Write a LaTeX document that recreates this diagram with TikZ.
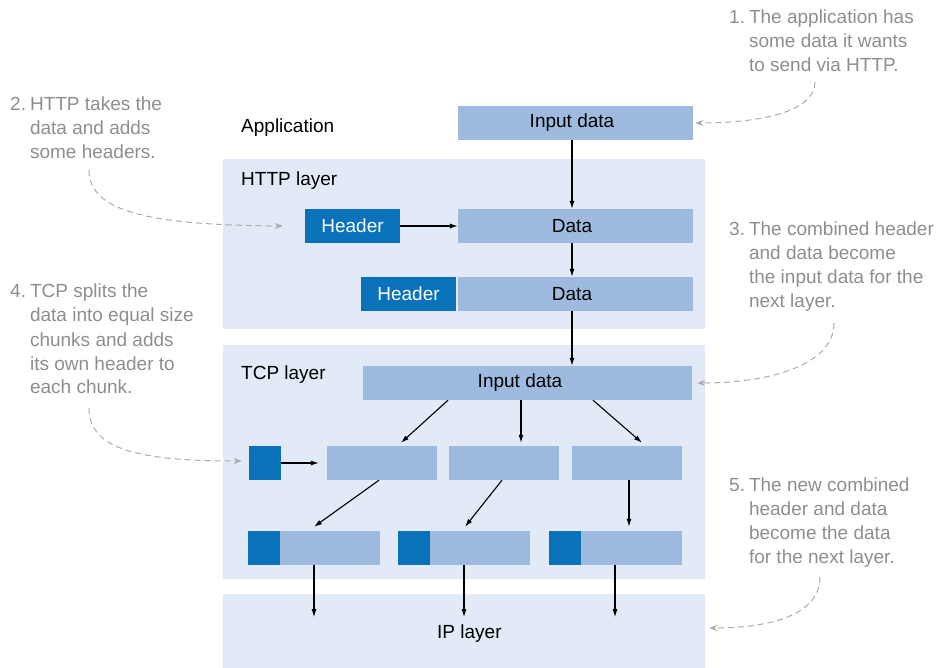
\documentclass[tikz,border=0pt]{standalone}
\usepackage{fontspec}
\setmainfont{Liberation Sans}
\usetikzlibrary{arrows.meta,calc}
\definecolor{panelbg}{HTML}{E1EAF6}
\definecolor{databg}{HTML}{9EBBDF}
\definecolor{hdrbg}{HTML}{0A72BA}
\definecolor{notegray}{HTML}{8E8E8E}
\definecolor{dashgray}{HTML}{ABABAB}
\begin{document}
\begin{tikzpicture}[x=1pt,y=-1pt,
  every node/.style={inner sep=0pt, font=\fontsize{19}{24}\selectfont},
  panel/.style={fill=panelbg, minimum width=482pt},
  databox/.style={fill=databg, minimum height=34pt},
  hdrbox/.style={fill=hdrbg, text=white, minimum height=34pt},
  layertitle/.style={anchor=base west, text=black},
  note/.style={anchor=base west, text=notegray},
  flow/.style={-{Latex[length=8pt,width=5pt]}, line width=1.1pt, black},
  callout/.style={-{Stealth[length=8pt,width=6pt]}, dashgray, line width=1pt, dash pattern=on 6pt off 4pt},
]
\useasboundingbox (0,0) rectangle (939,668);

% layer panels
\node[panel, minimum height=170pt] (http) at (464,244) {};
\node[panel, minimum height=234pt] (tcp) at (464,462) {};
\node[panel, minimum height=74pt] (ip) at (464,631) {};

% layer titles
\node[layertitle] (tapp) at (241,133) {Application};
\node[layertitle] (thttp) at (241,186) {HTTP layer};
\node[layertitle] (ttcp) at (241,379) {TCP layer};
\node[layertitle] (tip) at (437,638) {IP layer};

% application and HTTP layer boxes
\node[databox, minimum width=235pt] (in1) at (575.5,123) {\hspace*{-7pt}Input data};
\node[databox, minimum width=235pt] (d1) at (575.5,226) {\hspace*{-7pt}Data};
\node[databox, minimum width=235pt] (d2) at (575.5,294) {\hspace*{-7pt}Data};
\node[hdrbox, minimum width=95pt] (h1) at (352.5,226) {Header};
\node[hdrbox, minimum width=95pt] (h2) at (408.5,294) {Header};

% TCP layer boxes
\node[databox, minimum width=329pt] (tin) at (527.5,383) {\hspace*{-15pt}Input data};
\node[hdrbox, minimum width=32pt] (sh) at (265,463) {};
\node[databox, minimum width=110pt] (c1) at (382,463) {};
\node[databox, minimum width=110pt] (c2) at (504,463) {};
\node[databox, minimum width=110pt] (c3) at (627,463) {};

\node[hdrbox, minimum width=32pt] (s1h) at (264,548) {};
\node[databox, minimum width=100pt] (s1d) at (330,548) {};
\node[hdrbox, minimum width=32pt] (s2h) at (414,548) {};
\node[databox, minimum width=100pt] (s2d) at (480,548) {};
\node[hdrbox, minimum width=32pt] (s3h) at (565,548) {};
\node[databox, minimum width=101pt] (s3d) at (631.5,548) {};

% flow arrows
\draw[flow] ($(in1.south)+(-3.5,0)$) -- ($(d1.north)+(-3.5,0)$);
\draw[flow] (h1.east) -- (d1.west);
\draw[flow] ($(d1.south)+(-3.5,0)$) -- ($(d2.north)+(-3.5,0)$);
\draw[flow] ($(d2.south)+(-3.5,0)$) -- ($(tin.north)+(44.5,0)$);
\draw[flow] ($(tin.south)+(-79.5,0)$) -- ($(c1.north)+(19,-3)$);
\draw[flow] ($(tin.south)+(-6.5,0)$) -- ($(c2.north)+(17,-3)$);
\draw[flow] ($(tin.south)+(65.5,0)$) -- ($(c3.north)+(15,-3)$);
\draw[flow] (sh.east) -- ($(c1.west)+(-8,0)$);
\draw[flow] ($(c1.south)+(-3,0)$) -- ($(s1d.north)+(-16,-4)$);
\draw[flow] ($(c2.south)+(-2,0)$) -- ($(s2d.north)+(-15,-4)$);
\draw[flow] ($(c3.south)+(2,0)$) -- ($(s3d.north)+(-2.5,-4)$);
\draw[flow] ($(s1d.south)+(-16,0)$) -- ++(0,52);
\draw[flow] ($(s2d.south)+(-16,0)$) -- ++(0,52);
\draw[flow] ($(s3d.south)+(-16.5,0)$) -- ++(0,52);

% call-out notes
\node[note] (n1) at (729,24) {\begin{tabular}[t]{@{}l@{\hspace{4pt}}l@{}}1.&The application has\\&some data it wants\\&to send via HTTP.\end{tabular}};
\node[note] (n2) at (10,111) {\begin{tabular}[t]{@{}l@{\hspace{4pt}}l@{}}2.&HTTP takes the\\&data and adds\\&some headers.\end{tabular}};
\node[note] (n3) at (729,236) {\begin{tabular}[t]{@{}l@{\hspace{4pt}}l@{}}3.&The combined header\\&and data become\\&the input data for the\\&next layer.\end{tabular}};
\node[note] (n4) at (10,298) {\begin{tabular}[t]{@{}l@{\hspace{4pt}}l@{}}4.&TCP splits the\\&data into equal size\\&chunks and adds\\&its own header to\\&each chunk.\end{tabular}};
\node[note] (n5) at (729,491) {\begin{tabular}[t]{@{}l@{\hspace{4pt}}l@{}}5.&The new combined\\&header and data\\&become the data\\&for the next layer.\end{tabular}};

% call-out start points
\coordinate (n1s) at (815,82);
\coordinate (n2s) at (89,170);
\coordinate (n3s) at (834,323);
\coordinate (n4s) at (89,408);
\coordinate (n5s) at (820,577);

\draw[callout] (n1s) .. controls (815,112) and (760,123) .. ($(in1.east)+(2,0)$);
\draw[callout] (n2s) .. controls (89,212) and (150,225) .. ($(h1.west)+(-22,0)$);
\draw[callout] (n3s) .. controls (834,365) and (770,383) .. ($(tin.east)+(5,0)$);
\draw[callout] (n4s) .. controls (89,450) and (140,461) .. ($(sh.west)+(-7,-2)$);
\draw[callout] (n5s) .. controls (820,615) and (770,628) .. ($(ip.east)+(4,-3)$);
\end{tikzpicture}
\end{document}
